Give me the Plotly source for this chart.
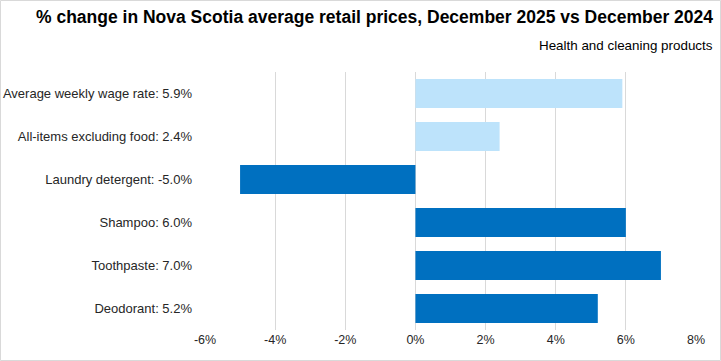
import plotly.graph_objects as go

categories = ["Average weekly wage rate", "All-items excluding food", "Laundry detergent",
              "Shampoo", "Toothpaste", "Deodorant"]
values = [5.9, 2.4, -5.0, 6.0, 7.0, 5.2]
colors = ["#BDE3FB", "#BDE3FB", "#0070C0", "#0070C0", "#0070C0", "#0070C0"]
tick_vals = [-6, -4, -2, 0, 2, 4, 6, 8]
tick_text = ["-6%", "-4%", "-2%", "0%", "2%", "4%", "6%", "8%"]

labels = [f"{c}: {v:.1f}%" for c, v in zip(categories, values)]

font_fam = "Liberation Sans, Arial, sans-serif"

L, R, T, B = 205, 25, 72, 31
PW = 721 - L - R
PH = 361 - T - B

fig = go.Figure(go.Bar(
    y=labels, x=values, orientation="h",
    marker=dict(color=colors, line=dict(width=0)),
    hoverinfo="x+y",
))

fig.update_layout(
    width=721, height=361,
    margin=dict(l=L, r=R, t=T, b=B, autoexpand=False),
    paper_bgcolor="white", plot_bgcolor="white",
    bargap=0.32,
    showlegend=False,
    font=dict(family=font_fam, size=13, color="#262626"),
    xaxis=dict(range=[-6, 8], tickvals=tick_vals, ticktext=tick_text,
               showgrid=True, gridcolor="#D9D9D9", gridwidth=1,
               zeroline=True, zerolinecolor="#D9D9D9", zerolinewidth=1,
               showline=False, ticks="", automargin=False,
               tickfont=dict(size=12.5, color="#262626")),
    yaxis=dict(autorange="reversed", showgrid=False, zeroline=False, ticks="",
               automargin=False, ticklabelstandoff=12,
               tickfont=dict(size=13, color="#262626")),
    annotations=[
        dict(text="<b>% change in Nova Scotia average retail prices, December 2025 vs December 2024</b>",
             xref="paper", yref="paper", x=(715 - L) / PW, y=1 + (T - 17) / PH,
             xanchor="right", yanchor="middle", showarrow=False,
             font=dict(family=font_fam, size=17.5, color="#000000")),
        dict(text="Health and cleaning products",
             xref="paper", yref="paper", x=(715 - L) / PW, y=1 + (T - 45) / PH,
             xanchor="right", yanchor="middle", showarrow=False,
             font=dict(family=font_fam, size=13.4, color="#000000")),
    ],
    shapes=[dict(type="rect", xref="paper", yref="paper",
                 x0=-(L - 0.5) / PW, x1=(720.5 - L) / PW, y0=-(B - 0.5) / PH, y1=1 + (T - 0.5) / PH,
                 line=dict(color="#D9D9D9", width=1), fillcolor="rgba(0,0,0,0)", layer="below")],
)

fig.write_html("out.html", config={"displayModeBar": False},
               post_script="document.body.style.margin='0';")
